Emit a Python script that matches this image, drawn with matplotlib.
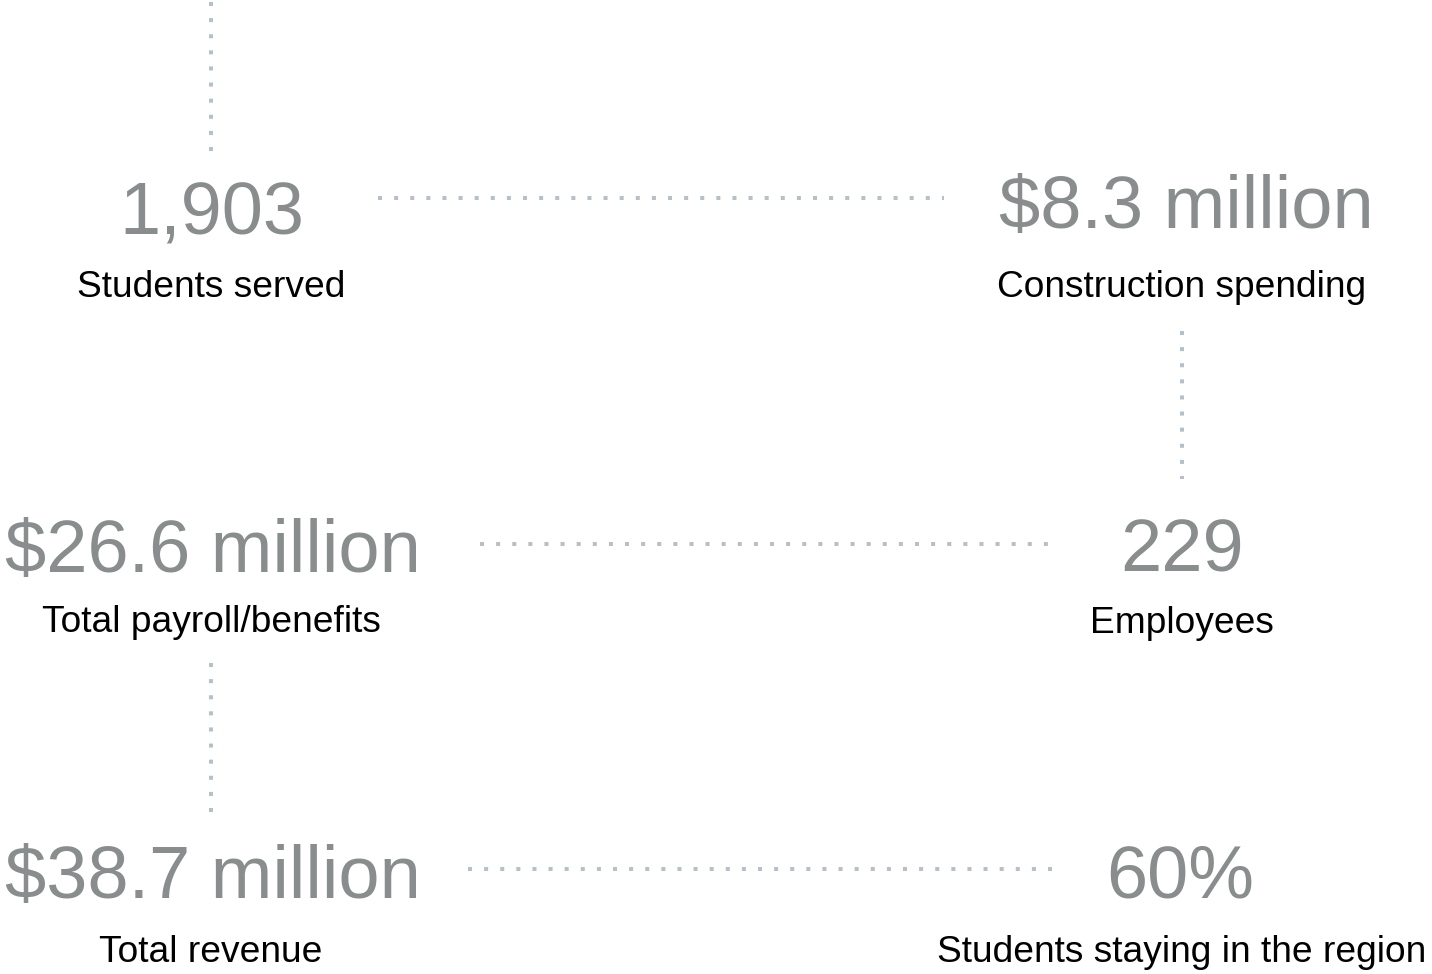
import matplotlib.pyplot as plt
import matplotlib as mpl

mpl.rcParams["font.family"] = ["Liberation Sans", "DejaVu Sans"]

# figures and their captions
values = ["1,903", "$8.3 million", "$26.6 million", "229", "$38.7 million", "60%"]
captions = ["Students served", "Construction spending", "Total payroll/benefits",
            "Employees", "Total revenue", "Students staying in the region"]

# layout in pixels (x centre, baseline of value, baseline of caption)
value_xy = [(212, 235), (1186, 228), (213, 572), (1182, 572), (213, 898), (1180, 898)]
caption_xy = [(211, 297), (1182, 297), (211, 632), (1182, 633), (211, 962), (1182, 962)]

# dotted connectors: (x0, y0, x1, y1)
connectors = [
    (211, 2, 211, 156),
    (378, 198, 944, 198),
    (1182, 331, 1182, 479),
    (480, 544, 1048, 544),
    (211, 663, 211, 812),
    (468, 869, 1052, 869),
]

W, H = 1432, 974
fig = plt.figure(figsize=(W / 100, H / 100), dpi=100)
ax = fig.add_axes([0, 0, 1, 1])
ax.set_xlim(0, W)
ax.set_ylim(H, 0)
ax.axis("off")

dot_color = "#b6c0cb"
for x0, y0, x1, y1 in connectors:
    ax.plot([x0, x1], [y0, y1], color=dot_color, lw=2.9, dashes=(1, 3),
            dash_capstyle="butt", solid_capstyle="butt")

for (x, y), v in zip(value_xy, values):
    ax.text(x, y, v, ha="center", va="baseline", fontsize=53.3, color="#898d8d")

for (x, y), c in zip(caption_xy, captions):
    ax.text(x, y, c, ha="center", va="baseline", fontsize=26.7, color="black")

fig.savefig("out.png", dpi=100, facecolor="white")
